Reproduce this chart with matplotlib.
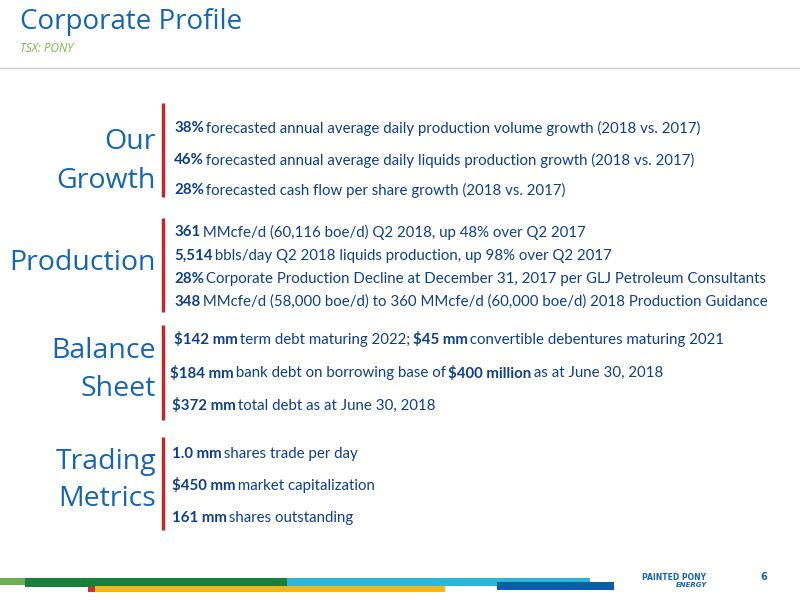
import matplotlib
matplotlib.use("Agg")
import matplotlib.pyplot as plt
from matplotlib.patches import Rectangle

title = "Corporate Profile"
subtitle = "TSX: PONY"
section_labels = [["Our", "Growth"], ["Production"], ["Balance", "Sheet"], ["Trading", "Metrics"]]
section_label_y = [[142, 181], [263], [351, 389], [462, 499]]
bar_spans = [(103, 197), (218, 312), (325, 420), (437, 530)]
lines = [
    [(174, 128, [("38%", True), (" forecasted annual average daily production volume growth (2018 vs. 2017)", False)]),
     (174, 160, [("46%", True), (" forecasted annual average daily liquids production growth (2018 vs. 2017)", False)]),
     (174, 190, [("28%", True), (" forecasted cash flow per share growth (2018 vs. 2017)", False)])],
    [(174, 232, [("361", True), (" MMcfe/d (60,116 boe/d) Q2 2018, up 48% over Q2 2017", False)]),
     (174, 256, [("5,514", True), (" bbls/day Q2 2018 liquids production, up 98% over Q2 2017", False)]),
     (174, 279, [("28%", True), (" Corporate Production Decline at December 31, 2017 per GLJ Petroleum Consultants", False)]),
     (174, 302, [("348", True), (" MMcfe/d (58,000 boe/d) to 360 MMcfe/d (60,000 boe/d) 2018 Production Guidance", False)])],
    [(174, 340, [("$142 mm", True), (" term debt maturing 2022; ", False), ("$45 mm", True), (" convertible debentures maturing 2021", False)]),
     (170, 373, [("$184 mm", True), (" bank debt on borrowing base of ", False), ("$400 million", True), (" as at June 30, 2018", False)]),
     (172, 406, [("$372 mm", True), (" total debt as at June 30, 2018", False)])],
    [(172, 454, [("1.0 mm", True), (" shares trade per day", False)]),
     (172, 486, [("$450 mm", True), (" market capitalization", False)]),
     (172, 518, [("161 mm", True), (" shares outstanding", False)])],
]
stripes = [  # x0, x1, y0, y1, color
    (0, 25, 578, 585, "#6ab04c"),
    (25, 287, 578, 587, "#1a7f3a"),
    (287, 590, 578, 586, "#29b6d9"),
    (497, 614, 582, 590, "#0b5fa8"),
    (95, 445, 586, 592, "#f2b61f"),
    (88, 95, 587, 592, "#d0323c"),
]

BLUE = "#1565b0"
NAVY = "#0f3f86"
FONT = "Lato"

fig = plt.figure(figsize=(8, 6), dpi=100)
ax = fig.add_axes([0, 0, 1, 1])
ax.set_xlim(0, 800); ax.set_ylim(600, 0); ax.axis("off")

ax.text(20, 22, title, color=BLUE, fontsize=20, family="Open Sans", va="center")
ax.text(20, 49, subtitle, color="#7ab648", fontsize=8.5, style="italic", family="Open Sans", va="center")
ax.plot([0, 800], [68, 68], color="#d0d0d0", lw=1)

for labs, ys in zip(section_labels, section_label_y):
    for lab, y in zip(labs, ys):
        ax.text(156, y, lab, color=BLUE, fontsize=20.5, family="Open Sans", ha="right", va="center")
for y0, y1 in bar_spans:
    ax.plot([163, 163], [y0, y1], color="#c0282e", lw=2.5, solid_capstyle="butt")

fig.canvas.draw()
r = fig.canvas.get_renderer()
for sec in lines:
    for x, y, parts in sec:
        cx = x
        for txt, bold in parts:
            t = ax.text(cx, y, txt, color=NAVY, fontsize=10.8, family=FONT,
                        weight="bold" if bold else "normal", va="center")
            bb = t.get_window_extent(r)
            cx += bb.width - 1.5

for x0, x1, y0, y1, c in stripes:
    ax.add_patch(Rectangle((x0, y0), x1 - x0, y1 - y0, color=c, lw=0))

ax.text(642, 577, "PAINTED PONY", color="#1565b0", fontsize=5.5, weight="bold", va="center")
ax.text(676, 585, "ENERGY", color="#1565b0", fontsize=5, weight="bold", style="italic", va="center")
ax.text(760, 577, "6", color="#1565b0", fontsize=7, weight="bold", va="center")

fig.savefig("out.png", dpi=100)
